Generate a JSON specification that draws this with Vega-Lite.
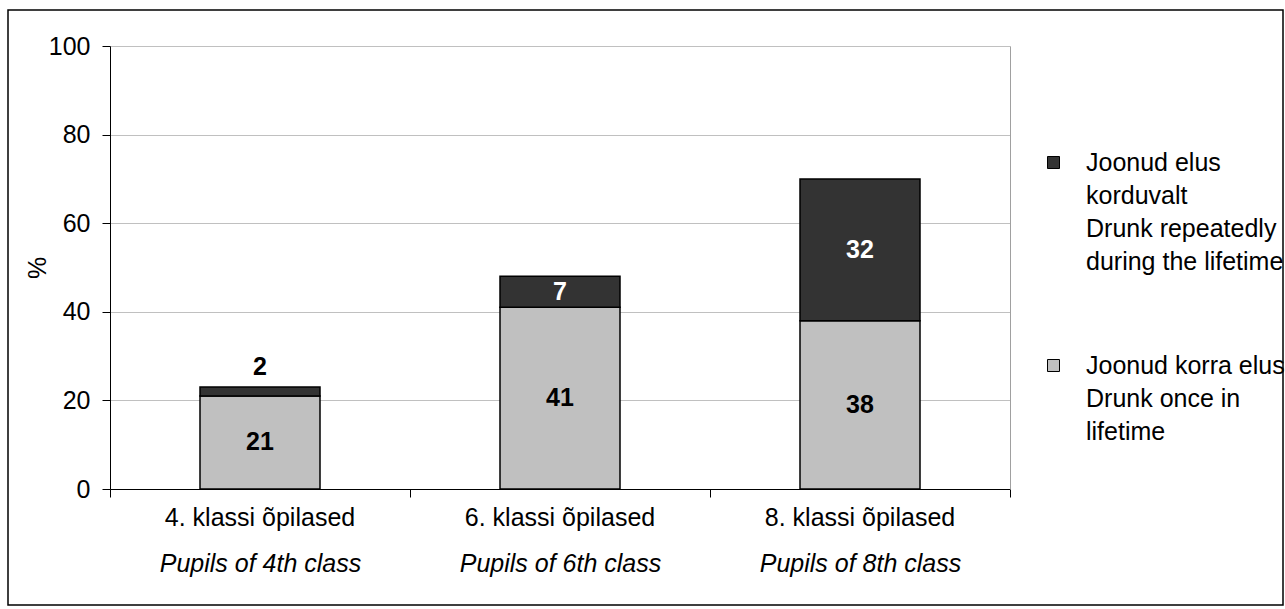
{
  "$schema": "https://vega.github.io/schema/vega-lite/v6.json",
  "width": 1275,
  "height": 595,
  "autosize": {"type": "none"},
  "padding": {"left": 8, "top": 10, "right": 2, "bottom": 4},
  "background": "white",
  "config": {
    "font": "Liberation Sans",
    "view": {"stroke": "black", "strokeWidth": 1.5},
    "style": {"guide-label": {"lineHeight": 33}}
  },
  "data": {
    "values": [
      {"klass": "4. klassi õpilased", "en": "Pupils of 4th class", "type": "Joonud korra elus|Drunk once in|lifetime", "value": 21, "stackorder": 1},
      {"klass": "4. klassi õpilased", "en": "Pupils of 4th class", "type": "Joonud elus|korduvalt|Drunk repeatedly|during the lifetime", "value": 2, "stackorder": 2},
      {"klass": "6. klassi õpilased", "en": "Pupils of 6th class", "type": "Joonud korra elus|Drunk once in|lifetime", "value": 41, "stackorder": 1},
      {"klass": "6. klassi õpilased", "en": "Pupils of 6th class", "type": "Joonud elus|korduvalt|Drunk repeatedly|during the lifetime", "value": 7, "stackorder": 2},
      {"klass": "8. klassi õpilased", "en": "Pupils of 8th class", "type": "Joonud korra elus|Drunk once in|lifetime", "value": 38, "stackorder": 1},
      {"klass": "8. klassi õpilased", "en": "Pupils of 8th class", "type": "Joonud elus|korduvalt|Drunk repeatedly|during the lifetime", "value": 32, "stackorder": 2}
    ]
  },
  "layer": [
    {
      "mark": {"type": "bar", "stroke": "black", "strokeWidth": 1.5},
      "encoding": {
        "x": {
          "field": "klass", "type": "nominal", "sort": null,
          "scale": {"domain": ["4. klassi õpilased", "6. klassi õpilased", "8. klassi õpilased"], "range": [102, 1002], "paddingInner": 0.6, "paddingOuter": 0.3},
          "axis": {"orient": "bottom", "offset": -116, "title": null, "labelAngle": 0, "labelFontSize": 25, "labelColor": "black", "labelPadding": 16, "labelLimit": 400, "ticks": false, "domainColor": "black", "grid": false}
        },
        "y": {
          "field": "value", "type": "quantitative", "stack": "zero",
          "scale": {"domain": [0, 100], "range": [479, 36], "nice": false},
          "axis": {"offset": -102, "values": [0, 20, 40, 60, 80, 100], "title": "%", "titleFontSize": 25, "titleFontWeight": "normal", "titleColor": "black", "titlePadding": -2, "labelFontSize": 25, "labelColor": "black", "labelPadding": 12, "tickSize": 8, "tickColor": "black", "domainColor": "black", "grid": true, "gridColor": "#c0c0c0"}
        },
        "color": {
          "field": "type", "type": "nominal",
          "scale": {"domain": ["Joonud elus|korduvalt|Drunk repeatedly|during the lifetime", "Joonud korra elus|Drunk once in|lifetime"], "range": ["#333333", "#c0c0c0"]},
          "legend": {"orient": "none", "legendX": 1033, "legendY": 140, "title": null, "symbolType": "square", "symbolSize": 144, "symbolStrokeColor": "black", "symbolStrokeWidth": 1, "labelFontSize": 25, "labelColor": "black", "labelOffset": 20, "labelLimit": 400, "rowPadding": 78, "padding": 0, "labelExpr": "split(datum.label, '|')"}
        },
        "order": {"field": "stackorder", "type": "quantitative"}
      }
    },
    {
      "transform": [
        {"stack": "value", "groupby": ["klass"], "sort": [{"field": "stackorder", "order": "ascending"}], "as": ["v0", "v1"]},
        {"calculate": "(datum.v0 + datum.v1) / 2", "as": "mid"},
        {"filter": "datum.value >= 5"}
      ],
      "mark": {"type": "text", "fontSize": 25, "fontWeight": "bold"},
      "encoding": {
        "x": {"field": "klass", "type": "nominal", "sort": null, "scale": {"domain": ["4. klassi õpilased", "6. klassi õpilased", "8. klassi õpilased"], "range": [102, 1002], "paddingInner": 0.6, "paddingOuter": 0.3}, "axis": null},
        "y": {"field": "mid", "type": "quantitative", "scale": {"domain": [0, 100], "range": [479, 36], "nice": false}, "axis": null},
        "text": {"field": "value", "type": "quantitative"},
        "color": {"condition": {"test": "datum.stackorder == 2", "value": "white"}, "value": "black"}
      }
    },
    {
      "transform": [
        {"stack": "value", "groupby": ["klass"], "sort": [{"field": "stackorder", "order": "ascending"}], "as": ["v0", "v1"]},
        {"filter": "datum.value < 5"}
      ],
      "mark": {"type": "text", "fontSize": 25, "fontWeight": "bold", "dy": -20, "color": "black"},
      "encoding": {
        "x": {"field": "klass", "type": "nominal", "sort": null, "scale": {"domain": ["4. klassi õpilased", "6. klassi õpilased", "8. klassi õpilased"], "range": [102, 1002], "paddingInner": 0.6, "paddingOuter": 0.3}, "axis": null},
        "y": {"field": "v1", "type": "quantitative", "scale": {"domain": [0, 100], "range": [479, 36], "nice": false}, "axis": null},
        "text": {"field": "value", "type": "quantitative"}
      }
    },
    {
      "mark": {"type": "text", "text": " "},
      "encoding": {
        "x": {
          "field": "en", "type": "nominal", "sort": null,
          "scale": {"domain": ["Pupils of 4th class", "Pupils of 6th class", "Pupils of 8th class"], "range": [102, 1002], "paddingInner": 0.6, "paddingOuter": 0.3},
          "axis": {"orient": "bottom", "offset": -60, "title": null, "labelAngle": 0, "labelFontSize": 25, "labelFontStyle": "italic", "labelColor": "black", "labelPadding": 6, "labelLimit": 400, "domain": false, "ticks": false, "grid": false}
        },
        "y": {
          "datum": 0, "type": "quantitative",
          "scale": {"domain": [0, 100], "range": [479, 36], "nice": false},
          "axis": {"orient": "right", "offset": -273, "domain": true, "domainColor": "#a0a0a0", "ticks": false, "labels": false, "grid": false, "title": null}
        }
      }
    },
    {
      "mark": {"type": "text", "text": " "},
      "encoding": {
        "x": {
          "field": "klass", "type": "nominal", "sort": null,
          "scale": {"domain": ["4. klassi õpilased", "6. klassi õpilased", "8. klassi õpilased"], "range": [102, 1002], "paddingInner": 0, "paddingOuter": 0},
          "axis": {"orient": "bottom", "offset": -116, "title": null, "labels": false, "domain": false, "ticks": true, "tickBand": "extent", "tickSize": 8, "tickColor": "black", "grid": false}
        }
      }
    }
  ],
  "resolve": {"scale": {"x": "independent"}, "axis": {"x": "independent", "y": "independent"}}
}
